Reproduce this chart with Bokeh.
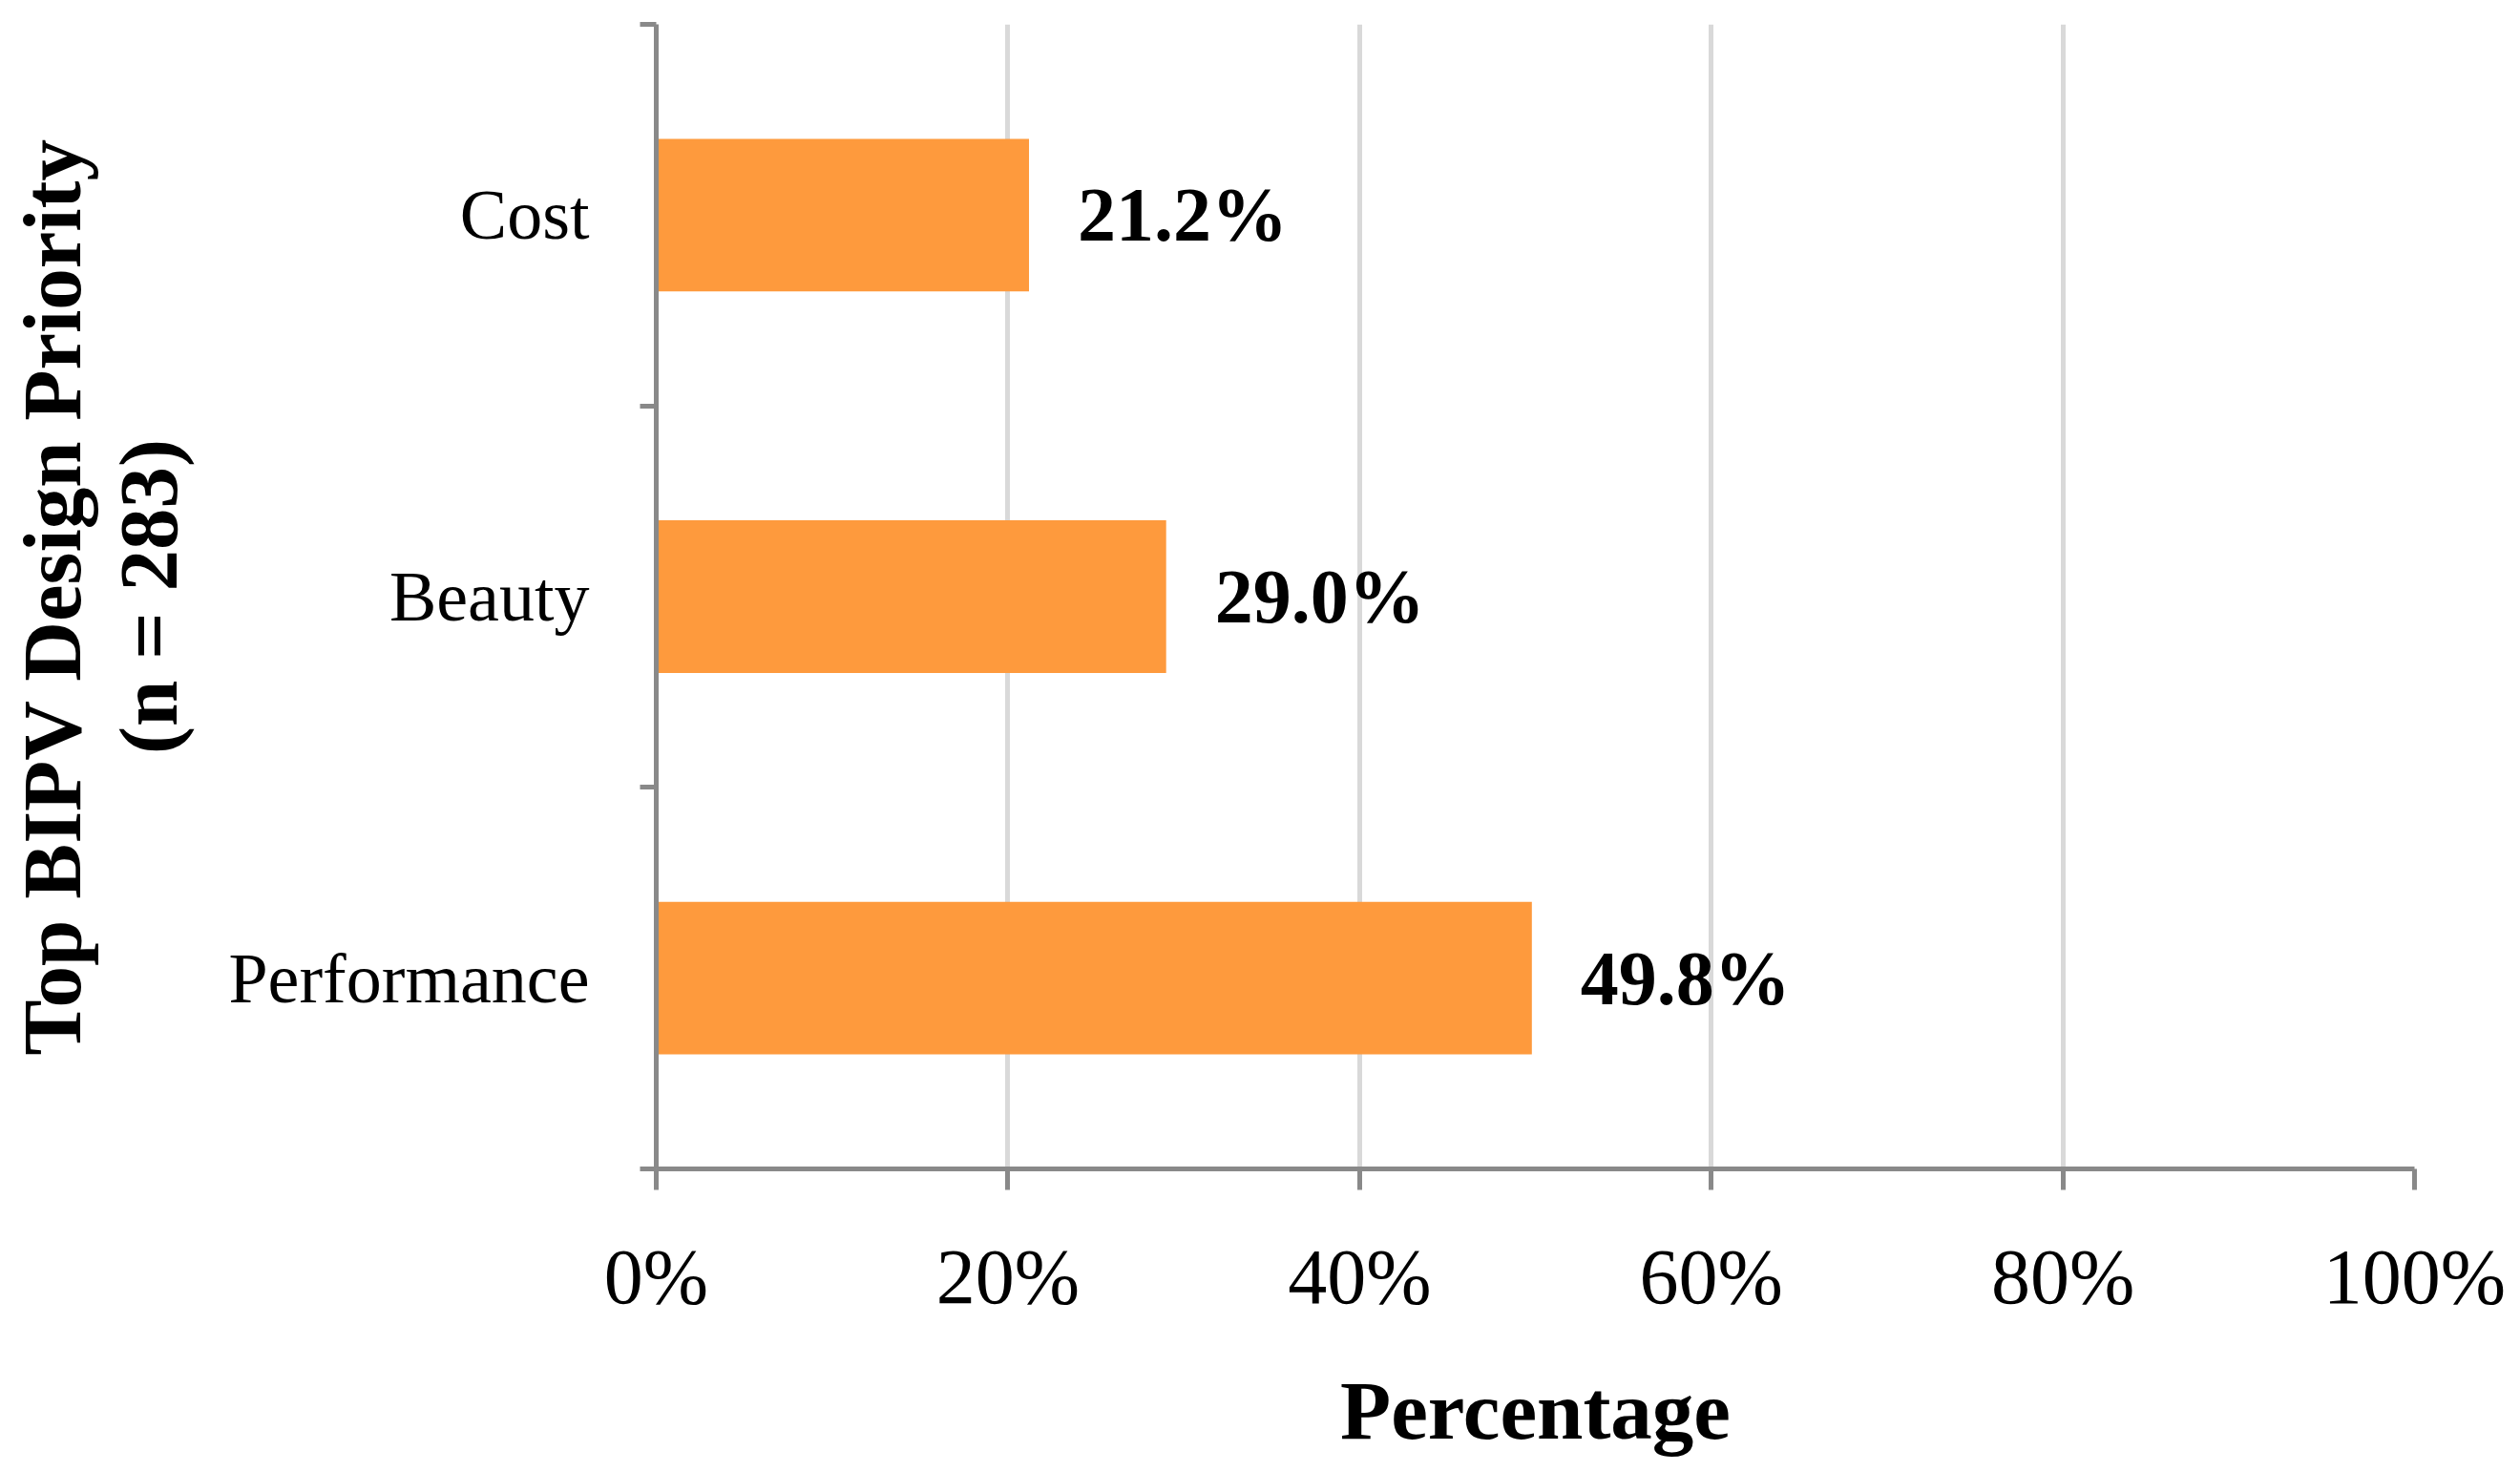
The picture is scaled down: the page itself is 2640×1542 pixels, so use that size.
from bokeh.plotting import figure
from bokeh.models import Range1d, FixedTicker, NumeralTickFormatter, Title, ColumnDataSource
from bokeh.core.properties import value
from bokeh.embed import file_html
from bokeh.resources import INLINE

# data (bottom to top)
categories = ["Performance", "Beauty", "Cost"]
shares = [0.498, 0.290, 0.212]
x_ticks = [0, 0.2, 0.4, 0.6, 0.8, 1.0]

FONT = "Liberation Serif"
ORANGE = "#FE9A3D"
AXIS = "#898989"
GRID = "#D9D9D9"

ypos = [i + 0.5 for i in range(len(categories))]
labels = [f"{v*100:.1f}%" for v in shares]
src = ColumnDataSource(dict(y=ypos, v=shares, lab=labels))

p = figure(width=2630, height=1530, output_backend="svg", toolbar_location=None,
           x_range=Range1d(0, 1), y_range=Range1d(0, len(categories)),
           min_border_left=687, min_border_right=101, min_border_top=25, min_border_bottom=306)
p.outline_line_color = None
p.background_fill_color = "white"
p.border_fill_color = "white"

p.hbar(y="y", right="v", left=0, height=0.4, source=src, fill_color=ORANGE, line_color=None)
p.text(x="v", y="y", text="lab", source=src, x_offset=51, text_baseline="middle",
       text_align="left", text_font=value(FONT), text_font_style="bold",
       text_font_size="80px", text_color="black")

# x axis
xa = p.xaxis[0]
xa.ticker = FixedTicker(ticks=x_ticks)
xa.formatter = NumeralTickFormatter(format="0%")
xa.axis_line_color = AXIS
xa.axis_line_width = 5
xa.major_tick_line_color = AXIS
xa.major_tick_line_width = 5
xa.major_tick_out = 22
xa.major_tick_in = 0
xa.minor_tick_line_color = None
xa.major_label_text_font = FONT
xa.major_label_text_font_size = "82px"
xa.major_label_text_color = "black"
xa.major_label_standoff = 45
xa.axis_label = "Percentage"
xa.axis_label_text_font = FONT
xa.axis_label_text_font_style = "bold"
xa.axis_label_text_font_size = "87px"
xa.axis_label_text_color = "black"
xa.axis_label_standoff = 43

# y axis: labels at category centres, tick marks at boundaries
ya = p.yaxis[0]
ya.ticker = FixedTicker(ticks=ypos, minor_ticks=list(range(len(categories) + 1)))
ya.major_label_overrides = {y: c for y, c in zip(ypos, categories)}
ya.axis_line_color = AXIS
ya.axis_line_width = 5
ya.major_tick_line_color = None
ya.major_tick_out = 0
ya.major_tick_in = 0
ya.minor_tick_line_color = AXIS
ya.minor_tick_line_width = 5
ya.minor_tick_out = 17
ya.minor_tick_in = 0
ya.major_label_text_font = FONT
ya.major_label_text_font_size = "74px"
ya.major_label_text_color = "black"
ya.major_label_standoff = 53
ya.axis_label = "(n = 283)"
ya.axis_label_text_font = FONT
ya.axis_label_text_font_style = "bold"
ya.axis_label_text_font_size = "87px"
ya.axis_label_text_color = "black"
ya.axis_label_standoff = 32

p.add_layout(Title(text="Top BIPV Design Priority", align="center", text_font=FONT,
                   text_font_style="bold", text_font_size="87px", text_color="black",
                   standoff=4), "left")

p.xgrid.ticker = FixedTicker(ticks=x_ticks)
p.xgrid.grid_line_color = GRID
p.xgrid.grid_line_width = 5
p.ygrid.grid_line_color = None

open("out.html", "w").write(file_html(p, INLINE))
